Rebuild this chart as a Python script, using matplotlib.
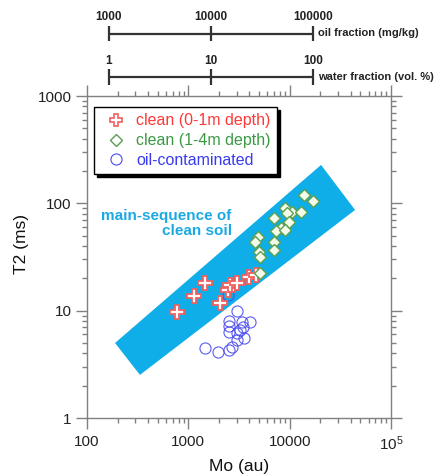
import matplotlib
matplotlib.use("Agg")
import matplotlib.pyplot as plt
from matplotlib.lines import Line2D

plt.rcParams['font.family'] = ['Liberation Sans', 'DejaVu Sans']
plt.rcParams['mathtext.fontset'] = 'custom'
plt.rcParams['mathtext.rm'] = 'Liberation Sans'
plt.rcParams['mathtext.default'] = 'regular'

# ---------------- data ----------------
clean_shallow_mo = [778, 1137, 1445, 2055, 2482, 2583, 3007, 3999, 4604]
clean_shallow_t2 = [9.66, 13.7, 18.2, 11.8, 15.6, 17.5, 18.1, 20.5, 21.7]

clean_deep_mo = [13870, 17020, 9010, 10560, 12970, 9420, 7010, 9860, 8220,
                 7350, 9010, 4880, 4550, 7010, 7010, 4990, 5100, 5100]
clean_deep_t2 = [119.7, 105.3, 90.6, 83.2, 83.2, 81.4, 73.1, 67.1, 59.0,
                 55.3, 56.5, 48.6, 43.7, 43.7, 36.8, 35.2, 31.7, 22.5]

oil_mo = [2466, 3027, 2523, 3390, 4063, 2523, 2992, 3467, 3507, 3007,
          1462, 1941, 2523, 2668, 3236, 2495]
oil_t2 = [14.0, 9.94, 8.02, 7.85, 7.85, 6.33, 6.20, 7.05, 5.53, 5.33,
          4.46, 4.10, 4.30, 4.59, 6.61, 7.20]

band_mo = [189, 333, 44200, 20400]
band_t2 = [5.0, 2.52, 86.8, 228]

x_ticks = [100, 1000, 10000, 100000]
x_ticklabels = ['100', '1000', '10000', '10$^5$']
y_ticks = [1, 10, 100, 1000]
y_ticklabels = ['1', '10', '100', '1000']

oil_frac_ticks = [1000, 10000, 100000]
oil_frac_labels = ['1000', '10000', '100000']
water_frac_ticks = [1, 10, 100]
water_frac_labels = ['1', '10', '100']

legend_labels = ['clean (0-1m depth)', 'clean (1-4m depth)', 'oil-contaminated']

# ---------------- figure ----------------
W, H = 443, 476
fig = plt.figure(figsize=(W / 100, H / 100), dpi=100)

def fx(x):
    return x / W

def fy(y):
    return 1 - y / H

ax = fig.add_axes([fx(87), fy(418), fx(391) - fx(87), fy(96) - fy(418)])
ax.set_xscale('log')
ax.set_yscale('log')
ax.set_xlim(100, 1e5)
ax.set_ylim(1, 1000)

band_col = '#10aee8'
ax.fill(band_mo, band_t2, color=band_col, lw=0, zorder=1)
ax.text(0.476, 0.605, 'main-sequence of\nclean soil', transform=ax.transAxes,
        ha='right', va='center', color='#1aa9e2', fontsize=11,
        fontweight='bold', linespacing=1.1, zorder=2)

ax.plot(oil_mo, oil_t2, linestyle='none', marker='o', markersize=8,
        markerfacecolor='none', markeredgecolor='#4a4aee', mew=0.8,
        alpha=0.9, zorder=3)
ax.plot(clean_shallow_mo, clean_shallow_t2, linestyle='none', marker='P',
        markersize=10, markerfacecolor='white', markeredgecolor='#f06060',
        mew=1.3, zorder=4)
ax.plot(clean_deep_mo, clean_deep_t2, linestyle='none', marker='D',
        markersize=6.5, markerfacecolor='#f4fbea', markeredgecolor='#5aa050',
        mew=1.0, zorder=5)

ax.set_xticks(x_ticks)
ax.set_xticklabels(x_ticklabels)
ax.set_yticks(y_ticks)
ax.set_yticklabels(y_ticklabels)

grey = '#808080'
for s in ax.spines.values():
    s.set_color(grey)
    s.set_linewidth(1.0)
ax.tick_params(which='both', direction='out', top=True, right=True,
               color=grey, width=1.0)
ax.tick_params(which='major', length=8, labelsize=11, labelcolor='#222222')
ax.tick_params(axis='x', which='major', pad=4)
ax.tick_params(axis='y', which='major', pad=3)
ax.tick_params(which='minor', length=3.5)

ax.set_xlabel('Mo (au)', fontsize=12.5, labelpad=4, color='#111111')
ax.set_ylabel('T2 (ms)', fontsize=12.5, labelpad=6, color='#111111', y=0.54)

handles = [
    Line2D([], [], linestyle='none', marker='P', markersize=9,
           markerfacecolor='white', markeredgecolor='#f06060', mew=1.2),
    Line2D([], [], linestyle='none', marker='D', markersize=6,
           markerfacecolor='white', markeredgecolor='#5aa050', mew=1.0),
    Line2D([], [], linestyle='none', marker='o', markersize=8,
           markerfacecolor='none', markeredgecolor='#4a4aee', mew=0.8),
]
leg = ax.legend(handles, legend_labels, loc='upper left',
                bbox_to_anchor=(0.023, 0.966), borderaxespad=0,
                fontsize=11.5, handlelength=2.0, handletextpad=0.25,
                labelspacing=0.3, borderpad=0.4, frameon=True,
                fancybox=False, edgecolor='black',
                shadow={'color': 'black', 'alpha': 1.0},
                labelcolor=['#ff3838', '#3a9a44', '#3a3aee'])
leg.get_frame().set_linewidth(1.0)
leg.set_zorder(10)

# ---------------- scale bars on top ----------------
def scale_bar(y_px, ticks, labels, title):
    bax = fig.add_axes([fx(109), fy(y_px + 20), fx(313) - fx(109), 40 / H])
    bax.set_xscale('log')
    bax.set_xlim(ticks[0], ticks[-1])
    bax.set_ylim(-20, 20)  # 1 unit = 1 px, 0 = bar centre
    bax.axis('off')
    bax.plot([ticks[0], ticks[-1]], [0, 0], color='#333333', lw=1.6,
             solid_capstyle='butt', clip_on=False)
    bax.vlines(ticks, -7.5, 7.5, color='#333333', lw=1.6, clip_on=False)
    for t, lab in zip(ticks, labels):
        bax.text(t, 16, lab, ha='center', va='center', fontsize=8.5,
                 fontweight='bold', color='#222222', clip_on=False)
    bax.annotate(title, xy=(ticks[-1], 0), xytext=(3.5, 0),
                 textcoords='offset points', ha='left', va='center',
                 fontsize=8, fontweight='bold', color='#222222',
                 annotation_clip=False)

scale_bar(33.5, oil_frac_ticks, oil_frac_labels, 'oil fraction (mg/kg)')
scale_bar(77, water_frac_ticks, water_frac_labels, 'water fraction (vol. %)')

fig.savefig('out.png', dpi=100)
